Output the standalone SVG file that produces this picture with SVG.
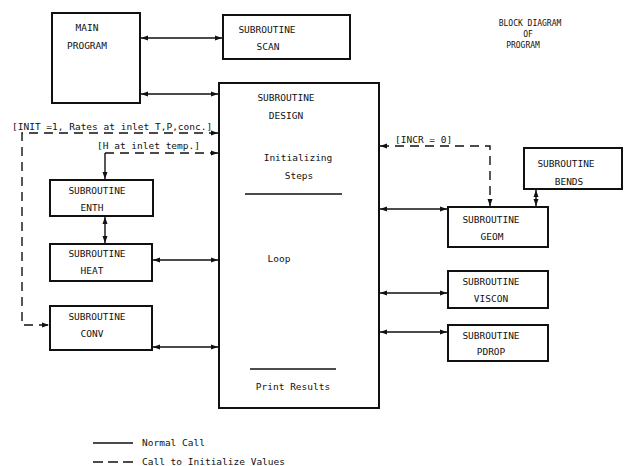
<svg xmlns="http://www.w3.org/2000/svg" width="624" height="466" viewBox="0 0 624 466">
<defs>
<marker id="ah" markerUnits="userSpaceOnUse" markerWidth="8" markerHeight="6" refX="7" refY="3" orient="auto-start-reverse" viewBox="0 0 8 6">
<path d="M0,0.5 L7,3 L0,5.5 Z" fill="#111"/>
</marker>
<style>
.box{fill:#fff;stroke:#111;stroke-width:2}
.t{font-family:"DejaVu Sans Mono","Liberation Mono",monospace;font-size:9.5px;fill:#111;text-anchor:middle}
.s{font-family:"DejaVu Sans Mono","Liberation Mono",monospace;font-size:8px;fill:#111;text-anchor:middle}
.l{font-family:"DejaVu Sans Mono","Liberation Mono",monospace;font-size:9.5px;fill:#111}
.c{fill:none;stroke:#111;stroke-width:1.4}
.d{fill:none;stroke:#111;stroke-width:1.4;stroke-dasharray:9,6}
.sep{stroke:#111;stroke-width:1.3}
</style>
</defs>
<rect width="624" height="466" fill="#fff"/>

<g id="title">
<text class="s" x="530" y="26">BLOCK DIAGRAM</text>
<text class="s" x="528" y="37">OF</text>
<text class="s" x="523" y="48">PROGRAM</text>
</g>

<g id="main">
<rect class="box" x="52" y="13" width="88" height="90"/>
<text class="t" x="87" y="31">MAIN</text>
<text class="t" x="87" y="49">PROGRAM</text>
</g>

<g id="scan">
<rect class="box" x="223" y="15" width="127" height="44"/>
<text class="t" x="267" y="33">SUBROUTINE</text>
<text class="t" x="268" y="50">SCAN</text>
</g>

<g id="design">
<rect class="box" x="219" y="83" width="160" height="325"/>
<text class="t" x="286" y="101">SUBROUTINE</text>
<text class="t" x="286" y="119">DESIGN</text>
<text class="t" x="298" y="161">Initializing</text>
<text class="t" x="299" y="179">Steps</text>
<line class="sep" x1="245" y1="194" x2="342" y2="194"/>
<text class="t" x="279" y="262">Loop</text>
<line class="sep" x1="250" y1="369" x2="336" y2="369"/>
<text class="t" x="293" y="390">Print Results</text>
</g>

<g id="enth">
<rect class="box" x="50" y="180" width="103" height="36"/>
<text class="t" x="97" y="194">SUBROUTINE</text>
<text class="t" x="92" y="211">ENTH</text>
</g>

<g id="heat">
<rect class="box" x="50" y="244" width="102" height="37"/>
<text class="t" x="97" y="257">SUBROUTINE</text>
<text class="t" x="92" y="274">HEAT</text>
</g>

<g id="conv">
<rect class="box" x="50" y="306" width="102" height="44"/>
<text class="t" x="97" y="320">SUBROUTINE</text>
<text class="t" x="92" y="337">CONV</text>
</g>

<g id="geom">
<rect class="box" x="448" y="207" width="100" height="40"/>
<text class="t" x="491" y="223">SUBROUTINE</text>
<text class="t" x="492" y="240">GEOM</text>
</g>

<g id="bends">
<rect class="box" x="524" y="148" width="98" height="41"/>
<text class="t" x="566" y="167">SUBROUTINE</text>
<text class="t" x="569" y="185">BENDS</text>
</g>

<g id="viscon">
<rect class="box" x="448" y="271" width="100" height="37"/>
<text class="t" x="491" y="285">SUBROUTINE</text>
<text class="t" x="491" y="302">VISCON</text>
</g>

<g id="pdrop">
<rect class="box" x="448" y="325" width="100" height="36"/>
<text class="t" x="491" y="339">SUBROUTINE</text>
<text class="t" x="491" y="355">PDROP</text>
</g>

<g id="connectors">
<path class="c" d="M141,38 H222" marker-start="url(#ah)" marker-end="url(#ah)"/>
<path class="c" d="M141,94 H218" marker-start="url(#ah)" marker-end="url(#ah)"/>
<path class="c" d="M153,260 H218" marker-start="url(#ah)" marker-end="url(#ah)"/>
<path class="c" d="M153,347 H218" marker-start="url(#ah)" marker-end="url(#ah)"/>
<path class="c" d="M105,217 V243" marker-start="url(#ah)" marker-end="url(#ah)"/>
<path class="c" d="M380,209 H447" marker-start="url(#ah)" marker-end="url(#ah)"/>
<path class="c" d="M536,190 V206" marker-start="url(#ah)" marker-end="url(#ah)"/>
<path class="c" d="M380,293 H447" marker-start="url(#ah)" marker-end="url(#ah)"/>
<path class="c" d="M380,332 H447" marker-start="url(#ah)" marker-end="url(#ah)"/>
<path class="c" d="M105,153 V179" marker-end="url(#ah)"/>
<path class="d" d="M218,133 H22 V325 H49" marker-start="url(#ah)" marker-end="url(#ah)"/>
<path class="d" d="M105,153 H218" marker-end="url(#ah)"/>
<path class="d" d="M380,146 H490 V206" marker-start="url(#ah)" marker-end="url(#ah)"/>
<text class="l" x="12" y="130">[INIT =1, Rates at inlet T,P,conc.]</text>
<text class="l" x="97" y="149">[H at inlet temp.]</text>
<rect x="392" y="134" width="60" height="10" fill="#fff"/>
<text class="l" x="395" y="143">[INCR = 0]</text>
</g>

<g id="legend">
<line class="c" x1="93" y1="443" x2="133" y2="443"/>
<text class="l" x="142" y="446">Normal Call</text>
<line class="d" x1="93" y1="462" x2="133" y2="462" style="stroke-dasharray:10,5"/>
<text class="l" x="142" y="465">Call to Initialize Values</text>
</g>
</svg>
